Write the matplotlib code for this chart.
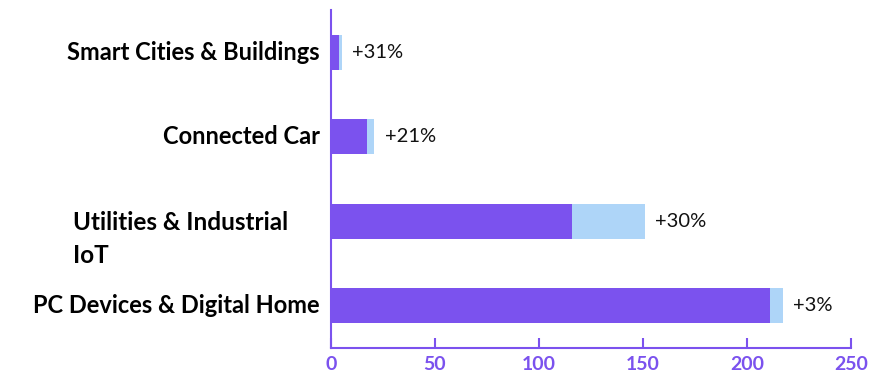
import matplotlib
matplotlib.use("Agg")
import matplotlib.pyplot as plt
import matplotlib.transforms as mtransforms

# Segment values (bottom to top)
categories = ["PC Devices & Digital Home", "Utilities & Industrial\nIoT",
              "Connected Car", "Smart Cities & Buildings"]
base_values = [211, 116, 17.3, 4]
growth_values = [6.3, 34.8, 3.6, 1.2]
growth_labels = ["+3%", "+30%", "+21%", "+31%"]
x_ticks = [0, 50, 100, 150, 200, 250]

PURPLE = "#7B52EE"
LIGHT_BLUE = "#AED5F8"

fig = plt.figure(figsize=(8.91, 3.74), dpi=100)
ax = fig.add_axes([0.3715, 0.0695, 0.955 - 0.3715, 0.973 - 0.0695])

y = list(range(len(categories)))
bar_h = 0.41
ax.barh(y, base_values, height=bar_h, color=PURPLE, zorder=2)
ax.barh(y, growth_values, left=base_values, height=bar_h, color=LIGHT_BLUE, zorder=2)

for yi, b, g, lab in zip(y, base_values, growth_values, growth_labels):
    ax.text(b + g + 5, yi, lab, va="center", ha="left", fontsize=14.5,
            family="Lato", color="#111111")

ax.set_xlim(0, 250)
ax.set_ylim(-0.5, 3.5)
ax.set_xticks(x_ticks)
ax.set_xticklabels([str(t) for t in x_ticks], fontsize=14, fontweight="bold",
                   color=PURPLE, family="Lato")
ax.set_yticks(y)
ax.set_yticklabels([])

# Category labels, right-aligned beside the axis, multiline ones left-justified
trans = mtransforms.blended_transform_factory(ax.transAxes, ax.transData)
for yi, name in zip(y, categories):
    if "\n" in name:
        ax.text(-0.083, yi - 0.21, name, transform=trans, ha="right", va="center",
                multialignment="left", fontsize=17.5, fontweight="bold",
                family="Lato", linespacing=1.5)
    else:
        ax.text(-0.022, yi, name, transform=trans, ha="right", va="center",
                fontsize=17, fontweight="bold", family="Lato")

for side in ["top", "right"]:
    ax.spines[side].set_visible(False)
for side in ["left", "bottom"]:
    ax.spines[side].set_color(PURPLE)
    ax.spines[side].set_linewidth(1.5)
ax.tick_params(axis="x", direction="in", length=7, width=1.5, color=PURPLE, pad=5.5)
ax.tick_params(axis="y", direction="in", length=6, width=1.5, color=PURPLE)

fig.savefig("out.png", dpi=100)
